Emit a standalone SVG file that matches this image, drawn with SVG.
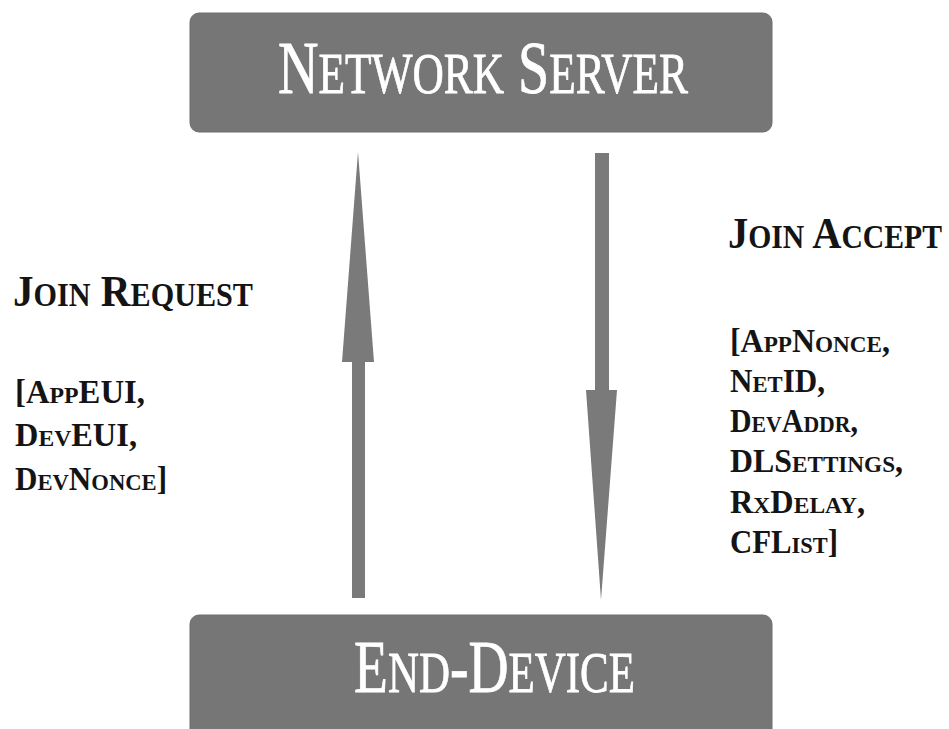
<svg xmlns="http://www.w3.org/2000/svg" width="949" height="729" viewBox="0 0 949 729">
  <style>
    .box { fill: #767676; stroke: #6e6e6e; stroke-width: 1; }
    .box-title { font-family: "Liberation Serif", "Times New Roman", serif; fill: #ffffff; stroke: #ffffff; stroke-width: 0.8; font-size: 75px; }
    .box-title .sc { font-size: 58px; }
    .arrow { fill: #7a7a7a; }
    .head { font-family: "Liberation Serif", "Times New Roman", serif; font-weight: bold; fill: #141414; font-size: 45px; }
    .head .sc { font-size: 33px; }
    .body { font-family: "Liberation Serif", "Times New Roman", serif; font-weight: bold; fill: #141414; font-size: 33px; }
    .body .sc { font-size: 24px; }
  </style>

  <rect width="949" height="729" fill="#ffffff"/>

  <!-- Network server node -->
  <g id="network-server">
    <rect class="box" x="190" y="13" width="582" height="119" rx="9"/>
    <text class="box-title" x="278" y="93" textLength="410" lengthAdjust="spacingAndGlyphs">N<tspan class="sc">ETWORK</tspan> S<tspan class="sc">ERVER</tspan></text>
  </g>

  <!-- End-device node -->
  <g id="end-device">
    <rect class="box" x="190" y="615" width="582" height="125" rx="9"/>
    <text class="box-title" x="354" y="692" textLength="281" lengthAdjust="spacingAndGlyphs">E<tspan class="sc">ND</tspan>-D<tspan class="sc">EVICE</tspan></text>
  </g>

  <!-- Connectors: uplink join request, downlink join accept -->
  <g id="connectors">
    <g id="join-request-arrow">
      <rect class="arrow" x="352" y="360" width="13" height="238"/>
      <polygon class="arrow" points="358,152 374,362 342,362"/>
    </g>
    <g id="join-accept-arrow">
      <rect class="arrow" x="595" y="153" width="14" height="239"/>
      <polygon class="arrow" points="586,390 617,390 601,600"/>
    </g>
  </g>

  <!-- Join request label -->
  <g id="join-request-label">
    <text class="head" x="13" y="306" textLength="240" lengthAdjust="spacingAndGlyphs">J<tspan class="sc">OIN</tspan> R<tspan class="sc">EQUEST</tspan></text>
    <text class="body" x="15" y="403" textLength="130" lengthAdjust="spacingAndGlyphs">[A<tspan class="sc">PP</tspan>EUI,</text>
    <text class="body" x="15" y="446" textLength="122" lengthAdjust="spacingAndGlyphs">D<tspan class="sc">EV</tspan>EUI,</text>
    <text class="body" x="15" y="490" textLength="152" lengthAdjust="spacingAndGlyphs">D<tspan class="sc">EV</tspan>N<tspan class="sc">ONCE</tspan>]</text>
  </g>

  <!-- Join accept label -->
  <g id="join-accept-label">
    <text class="head" x="728" y="248" textLength="214" lengthAdjust="spacingAndGlyphs">J<tspan class="sc">OIN</tspan> A<tspan class="sc">CCEPT</tspan></text>
    <text class="body" x="730" y="352" textLength="160" lengthAdjust="spacingAndGlyphs">[A<tspan class="sc">PP</tspan>N<tspan class="sc">ONCE</tspan>,</text>
    <text class="body" x="730" y="392" textLength="95" lengthAdjust="spacingAndGlyphs">N<tspan class="sc">ET</tspan>ID,</text>
    <text class="body" x="730" y="432" textLength="128" lengthAdjust="spacingAndGlyphs">D<tspan class="sc">EV</tspan>A<tspan class="sc">DDR</tspan>,</text>
    <text class="body" x="730" y="472" textLength="173" lengthAdjust="spacingAndGlyphs">DLS<tspan class="sc">ETTINGS</tspan>,</text>
    <text class="body" x="730" y="513" textLength="135" lengthAdjust="spacingAndGlyphs">R<tspan class="sc">X</tspan>D<tspan class="sc">ELAY</tspan>,</text>
    <text class="body" x="730" y="553" textLength="108" lengthAdjust="spacingAndGlyphs">CFL<tspan class="sc">IST</tspan>]</text>
  </g>
</svg>
